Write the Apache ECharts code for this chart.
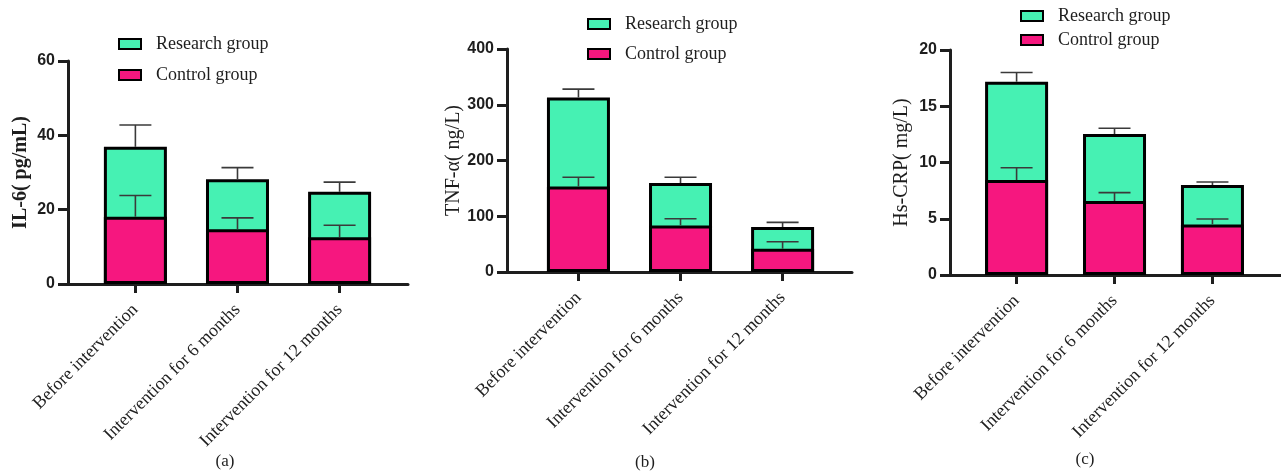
<!DOCTYPE html>
<html>
<head>
<meta charset="utf-8">
<script src="https://cdn.jsdelivr.net/npm/echarts@6/dist/echarts.min.js"></script>
<style>
  html, body { margin: 0; padding: 0; background: #fff; }
  #chart { width: 1281px; height: 472px; }
</style>
</head>
<body>
<div id="chart"></div>
<script>
// Time points shared by the three panels
const categories = ['Before intervention', 'Intervention for 6 months', 'Intervention for 12 months'];
const seriesNames = ['Research group', 'Control group'];

// (a) IL-6 (pg/mL)
const il6Control = [18.1, 14.7, 12.6];
const il6ControlSd = [5.7, 3.1, 3.2];
const il6Research = [18.8, 13.5, 12.2];
const il6ResearchSd = [5.9, 3.1, 2.6];

// (b) TNF-α (ng/L)
const tnfControl = [153.5, 83.6, 41.8];
const tnfControlSd = [16.5, 12.0, 12.5];
const tnfResearch = [159.5, 76.0, 38.9];
const tnfResearchSd = [15.0, 10.4, 8.3];

// (c) Hs-CRP (mg/L)
const crpControl = [8.44, 6.58, 4.50];
const crpControlSd = [1.10, 0.74, 0.48];
const crpResearch = [8.74, 5.95, 3.50];
const crpResearchSd = [0.82, 0.51, 0.27];

// y-axis ticks per panel
const il6Ticks = { min: 0, max: 60, interval: 20 };
const tnfTicks = { min: 0, max: 400, interval: 100 };
const crpTicks = { min: 0, max: 20, interval: 5 };

const PINK = '#F6177F';
const GREEN = '#46F1B3';
const INK = '#1e1e1e';
const SERIF = '"Liberation Serif", "DejaVu Serif", serif';
const SANS = '"Liberation Sans", Arial, sans-serif';

const panels = [
  { key: 'a', yName: 'IL-6( pg/mL)', yNameBold: true, ticks: il6Ticks,
    control: il6Control, controlSd: il6ControlSd, research: il6Research, researchSd: il6ResearchSd,
    grid: { left: 68, width: 340, top: 61, height: 223 }, xMin: -0.66, xMax: 2.67,
    legend: { left: 118, top: 34, itemGap: 11 }, nameGap: 37, caption: { x: 225, y: 462 } },
  { key: 'b', yName: 'TNF-α( ng/L)', yNameBold: false, ticks: tnfTicks,
    control: tnfControl, controlSd: tnfControlSd, research: tnfResearch, researchSd: tnfResearchSd,
    grid: { left: 507, width: 345, top: 49, height: 223 }, xMin: -0.70, xMax: 2.68,
    legend: { left: 587, top: 14, itemGap: 10 }, nameGap: 37, caption: { x: 645, y: 463 } },
  { key: 'c', yName: 'Hs-CRP( mg/L)', yNameBold: false, ticks: crpTicks,
    control: crpControl, controlSd: crpControlSd, research: crpResearch, researchSd: crpResearchSd,
    grid: { left: 950, width: 345, top: 50, height: 225 }, xMin: -0.68, xMax: 2.70,
    legend: { left: 1020, top: 6, itemGap: 4 }, nameGap: 38, caption: { x: 1085, y: 460 } }
];

const grids = [], xAxes = [], yAxes = [], legends = [], series = [], graphics = [];

// Draws upward whiskers with a cap: each item is [x, base, top]
function errorBarRender(params, api) {
  const x = api.value(0);
  const p0 = api.coord([x, api.value(1)]);
  const p1 = api.coord([x, api.value(2)]);
  const half = 16;
  const style = { stroke: '#3a3a3a', lineWidth: 1.6 };
  return {
    type: 'group',
    children: [
      { type: 'line', shape: { x1: p0[0], y1: p0[1], x2: p1[0], y2: p1[1] }, style },
      { type: 'line', shape: { x1: p1[0] - half, y1: p1[1], x2: p1[0] + half, y2: p1[1] }, style }
    ]
  };
}

panels.forEach((p, i) => {
  grids.push(Object.assign({ containLabel: false }, p.grid));

  xAxes.push({
    type: 'value', gridIndex: i, min: p.xMin, max: p.xMax,
    axisLine: { show: true, onZero: false, lineStyle: { color: INK, width: 3 } },
    axisTick: { show: true, customValues: [0, 1, 2], length: 9, lineStyle: { color: INK, width: 3 } },
    axisLabel: {
      customValues: [0, 1, 2], rotate: 45, margin: 23,
      formatter: v => categories[Math.round(v)] || '',
      fontFamily: SERIF, fontSize: 18, color: INK
    },
    splitLine: { show: false }
  });

  yAxes.push({
    type: 'value', gridIndex: i, min: p.ticks.min, max: p.ticks.max, interval: p.ticks.interval,
    name: p.yName, nameLocation: 'middle', nameGap: p.nameGap,
    nameTextStyle: { fontFamily: SERIF, fontSize: 20, color: INK, fontWeight: p.yNameBold ? 'bold' : 'normal' },
    axisLine: { show: true, onZero: false, lineStyle: { color: INK, width: 3 } },
    axisTick: { show: true, length: 10, lineStyle: { color: INK, width: 3 } },
    axisLabel: { fontFamily: SANS, fontWeight: 'bold', fontSize: 16, color: INK, margin: 13 },
    splitLine: { show: false }
  });

  legends.push({
    orient: 'vertical', left: p.legend.left, top: p.legend.top, itemGap: p.legend.itemGap,
    padding: 0, itemWidth: 22, itemHeight: 10, icon: 'rect',
    data: seriesNames, selectedMode: false,
    textStyle: { fontFamily: SERIF, fontSize: 18, color: INK, padding: [0, 0, 0, 10], lineHeight: 20 }
  });

  // Research segment sits on top of the control segment: its bar spans the
  // stacked total, and the control bar is drawn over its lower part.
  const totals = p.control.map((c, k) => c + p.research[k]);
  series.push({
    name: 'Research group', type: 'bar', xAxisIndex: i, yAxisIndex: i,
    barWidth: 63, barGap: '-100%', data: totals.map((t, k) => [k, t]),
    itemStyle: { color: GREEN, borderColor: '#000', borderWidth: 3 }
  });
  series.push({
    name: 'Control group', type: 'bar', xAxisIndex: i, yAxisIndex: i,
    barWidth: 63, barGap: '-100%', data: p.control.map((v, k) => [k, v]),
    itemStyle: { color: PINK, borderColor: '#000', borderWidth: 3 }
  });

  // whiskers: control from its own top, research from the stacked total
  const errData = [];
  p.control.forEach((c, k) => {
    errData.push([k, c, c + p.controlSd[k]]);
    errData.push([k, totals[k], totals[k] + p.researchSd[k]]);
  });
  series.push({
    type: 'custom', xAxisIndex: i, yAxisIndex: i, renderItem: errorBarRender,
    data: errData, z: 5, silent: true
  });

  graphics.push({
    type: 'text', x: p.caption.x, y: p.caption.y,
    style: { text: '(' + p.key + ')', fontFamily: SERIF, fontSize: 17, fill: INK,
             textAlign: 'center', textVerticalAlign: 'middle' }
  });
});

const chart = echarts.init(document.getElementById('chart'), null, { renderer: 'canvas' });
chart.setOption({
  animation: false,
  backgroundColor: '#fff',
  grid: grids, xAxis: xAxes, yAxis: yAxes, legend: legends,
  series: series, graphic: graphics
});
</script>
</body>
</html>
